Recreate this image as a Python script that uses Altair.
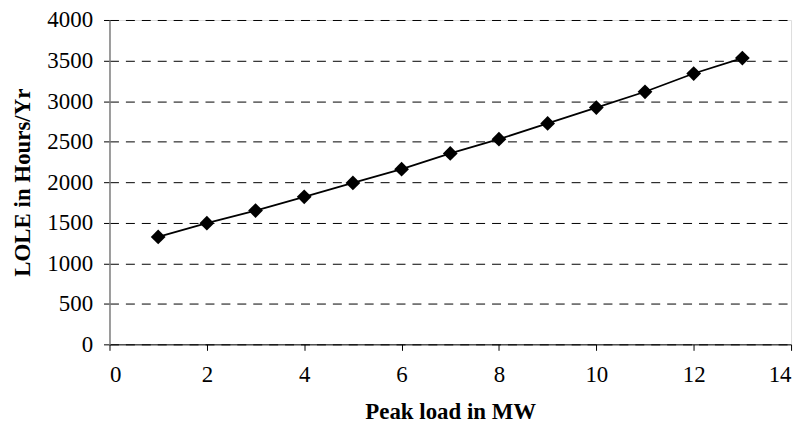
import altair as alt
import pandas as pd

peak_load = [1, 2, 3, 4, 5, 6, 7, 8, 9, 10, 11, 12, 13]
lole = [1325, 1495, 1650, 1820, 1990, 2160, 2355, 2530, 2725, 2920, 3115, 3340, 3530]

df = pd.DataFrame({"Peak load": peak_load, "LOLE": lole})

FONT = "Liberation Serif, Times New Roman, serif"

x = alt.X("Peak load:Q",
          scale=alt.Scale(domain=[0, 14], nice=False, zero=True),
          axis=alt.Axis(title="Peak load in MW", values=list(range(0, 15, 2)),
                        format="d", grid=False, domainColor="black", tickColor="black",
                        tickSize=6, labelPadding=13, titlePadding=15))
y = alt.Y("LOLE:Q",
          scale=alt.Scale(domain=[0, 4000], nice=False),
          axis=alt.Axis(title="LOLE in Hours/Yr", values=list(range(0, 4001, 500)),
                        format="d", grid=True, gridColor="black", gridDash=[9, 7], gridWidth=1,
                        domainColor="#808080", domainWidth=1.5, tickColor="black",
                        tickSize=6, labelPadding=11, titlePadding=12))

base = alt.Chart(df)
line = base.mark_line(color="black", strokeWidth=1.8).encode(x=x, y=y)
pts = base.mark_point(shape="diamond", filled=True, color="black", size=220, opacity=1).encode(x=x, y=y)

chart = alt.layer(line, pts).properties(
    width=685, height=326,
    autosize=alt.AutoSizeParams(type="none"),
    padding={"left": 102, "top": 11, "right": 10, "bottom": 81},
).configure_view(stroke=None).configure(background="white").configure_axis(
    labelFont=FONT, labelFontSize=23, labelColor="black",
    titleFont=FONT, titleFontSize=23, titleFontWeight="bold", titleColor="black",
)

chart.save("out.html", embed_options={"renderer": "svg", "actions": False})
